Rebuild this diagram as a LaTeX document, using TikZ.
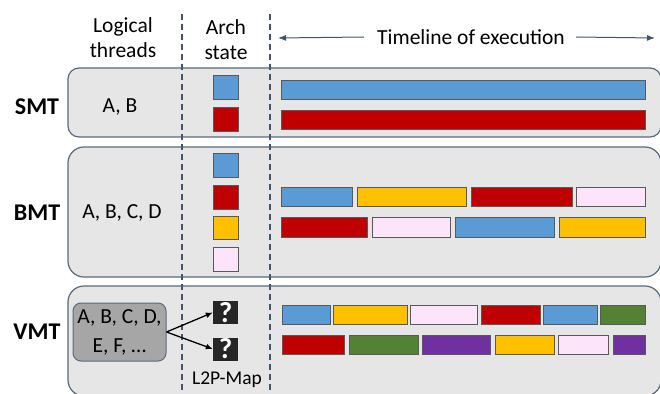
\documentclass[tikz,border=0pt]{standalone}
\usepackage{fontspec}
\setmainfont{Carlito}
\usetikzlibrary{arrows.meta}
\definecolor{panelfill}{HTML}{E6E6E6}
\definecolor{slate}{HTML}{5A6A7E}
\definecolor{dashc}{HTML}{44546A}
\definecolor{cblue}{HTML}{5B9BD5}
\definecolor{cred}{HTML}{C00000}
\definecolor{cyel}{HTML}{FFC000}
\definecolor{cpink}{HTML}{FCE4FA}
\definecolor{cgreen}{HTML}{548235}
\definecolor{cpurple}{HTML}{7030A0}
\definecolor{qfill}{HTML}{262626}
\definecolor{lgray}{HTML}{A6A6A6}
\tikzset{
  panel/.style={fill=panelfill, draw=slate, line width=1.2pt},
  segbox/.style={draw=black!65, line width=0.9pt, inner sep=0pt, outer sep=0pt, anchor=north west},
  divider/.style={draw=dashc, line width=1.4pt, dash pattern=on 6pt off 4pt},
  hdr/.style={font=\fontsize{21.5}{25}\selectfont, align=center, inner sep=1pt},
  rowlbl/.style={font=\fontsize{24}{28}\selectfont\bfseries},
  thr/.style={font=\fontsize{21.5}{29}\selectfont, align=center},
  qbox/.style={fill=qfill, draw=none, inner sep=0pt, minimum width=25pt, minimum height=23pt, text=white, font=\fontsize{29}{29}\selectfont\bfseries},
  tl/.style={draw=dashc, line width=1pt, -{Latex[length=8pt,width=6pt]}},
}
% \seg{name}{x1}{y1}{x2}{y2}{colour}
\newcommand\seg[6]{\node[segbox, fill=#6, minimum width={(#4-#2)*1pt}, minimum height={(#5-#3)*1pt}] (#1) at (#2,#3) {};}
\begin{document}
\begin{tikzpicture}[x=1pt,y=-1pt]
\useasboundingbox (0,0) rectangle (660,393);
% panels
\draw[panel, rounded corners=11pt] (68,68) rectangle (661,137);
\draw[panel, rounded corners=16pt] (68,147) rectangle (661,277);
\draw[panel, rounded corners=16pt] (68,286) rectangle (661,396);
% dividers
\coordinate (d1t) at (182,14); \coordinate (d1b) at (182,393);
\coordinate (d2t) at (270,14); \coordinate (d2b) at (270,393);
\draw[divider] (d1t) -- (d1b);
\draw[divider] (d2t) -- (d2b);
% headers
\node[hdr] (hlog) at (123,38) {Logical\\threads};
\node[hdr] (harch) at (226,40) {Arch\\state};
\node[hdr] (htime) at (471,37) {Timeline of execution};
\coordinate (tlL) at (278,38);
\coordinate (tlR) at (655,38);
\draw[tl] (htime.west) ++(-12,0) coordinate (tlLs) -- (tlL);
\draw[tl] (htime.east) ++(10,0) coordinate (tlRs) -- (tlR);
% row labels
\node[rowlbl] (smt) at (37,107) {SMT};
\node[rowlbl] (bmt) at (37,213) {BMT};
\node[rowlbl] (vmt) at (37,332) {VMT};
\node[thr] (tsmt) at (120,107) {A, B};
\node[thr] (tbmt) at (122,213) {A, B, C, D};
\node[thr, fill=lgray, draw=slate, line width=1pt, rounded corners=8pt, minimum width=93pt, minimum height=58pt, inner sep=0pt] (tvmt) at (119.5,332) {A, B, C, D,\\E, F, \dots};
% arch state SMT
\seg{sa1}{213}{75}{238}{99}{cblue}
\seg{sa2}{213}{107}{238}{131}{cred}
% arch state BMT
\seg{ba1}{213}{153}{238}{177}{cblue}
\seg{ba2}{213}{185}{238}{209}{cred}
\seg{ba3}{213}{216}{238}{239}{cyel}
\seg{ba4}{213}{247}{238}{271}{cpink}
% VMT question boxes
\node[qbox] (q1) at (225.5,312.5) {?};
\node[qbox] (q2) at (225.5,349) {?};
\coordinate (fork) at (tvmt.east);
\draw[line width=1.3pt, -{Latex[length=7pt,width=6pt]}] (fork) -- (q1.west);
\draw[line width=1.3pt, -{Latex[length=7pt,width=6pt]}] (fork) -- (q2.west);
\node[font=\fontsize{19.5}{24}\selectfont] (l2p) at (227,380) {L2P-Map};
% SMT timeline
\seg{s1}{281}{80}{645}{99}{cblue}
\seg{s2}{281}{110}{645}{129}{cred}
% BMT timeline
\seg{b11}{281}{187}{352}{206}{cblue}
\seg{b12}{357}{187}{466}{206}{cyel}
\seg{b13}{471}{187}{572}{206}{cred}
\seg{b14}{576}{187}{645}{206}{cpink}
\seg{b21}{281}{217}{367}{237}{cred}
\seg{b22}{372}{217}{450}{237}{cpink}
\seg{b23}{455}{217}{554}{237}{cblue}
\seg{b24}{559}{217}{645}{237}{cyel}
% VMT timeline
\seg{v11}{282}{305}{330}{324}{cblue}
\seg{v12}{333}{305}{407}{324}{cyel}
\seg{v13}{410}{305}{477}{324}{cpink}
\seg{v14}{481}{305}{540}{324}{cred}
\seg{v15}{543}{305}{597}{324}{cblue}
\seg{v16}{600}{305}{645}{324}{cgreen}
\seg{v21}{282}{335}{344}{354}{cred}
\seg{v22}{349}{335}{418}{354}{cgreen}
\seg{v23}{422}{335}{490}{354}{cpurple}
\seg{v24}{495}{335}{554}{354}{cyel}
\seg{v25}{558}{335}{608}{354}{cpink}
\seg{v26}{613}{335}{645}{354}{cpurple}
\end{tikzpicture}
\end{document}
